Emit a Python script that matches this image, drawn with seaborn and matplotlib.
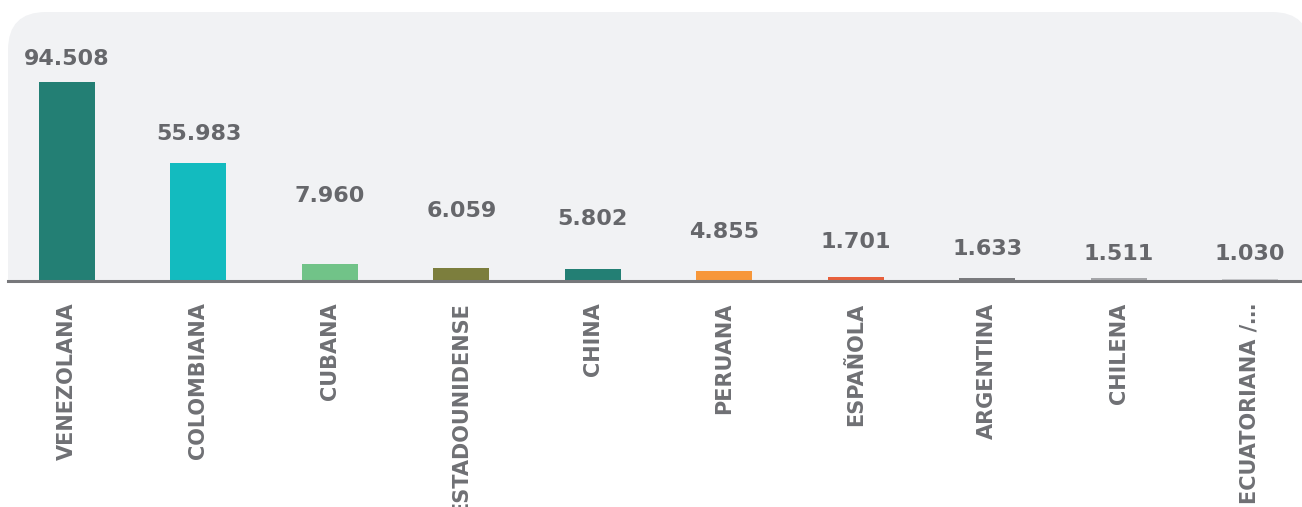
import matplotlib
matplotlib.use("Agg")
import matplotlib.pyplot as plt
import seaborn as sns
import pandas as pd
from matplotlib.patches import FancyBboxPatch, Rectangle

# ---- data ----
categories = ["VENEZOLANA", "COLOMBIANA", "CUBANA", "ESTADOUNIDENSE", "CHINA",
              "PERUANA", "ESPAÑOLA", "ARGENTINA", "CHILENA", "ECUATORIANA /…"]
values = [94508, 55983, 7960, 6059, 5802, 4855, 1701, 1633, 1511, 1030]
value_labels = ["94.508", "55.983", "7.960", "6.059", "5.802",
                "4.855", "1.701", "1.633", "1.511", "1.030"]
colors = ["#237f74", "#13bbbf", "#71c388", "#7c7e3d", "#237f74",
          "#f7973a", "#e8603c", "#7a7b7e", "#a5a6a9", "#c8c9cc"]

# layout: label centre height above the baseline, in pixels
label_offsets_px = [222, 147, 85, 70, 62, 49, 39, 32, 27, 27]

df = pd.DataFrame({"cat": categories, "val": values})

sns.set_theme(style="white")
plt.rcParams["font.family"] = ["DejaVu Sans"]

W, H, DPI = 1302, 507, 100
fig = plt.figure(figsize=(W / DPI, H / DPI), dpi=DPI)
fig.patch.set_facecolor("white")

# rounded light panel
base_px = 281
panel = FancyBboxPatch((8 / DPI, (H - base_px - 60) / DPI), (1310 - 8) / DPI,
                       (base_px + 60 - 12) / DPI,
                       boxstyle="round,pad=0,rounding_size=0.38",
                       transform=fig.dpi_scale_trans, facecolor="#f1f2f4",
                       edgecolor="none", zorder=-2)
fig.patches.append(panel)
cover = Rectangle((0, 0), W / DPI, (H - base_px) / DPI, transform=fig.dpi_scale_trans,
                  facecolor="white", edgecolor="none", zorder=-1)
fig.patches.append(cover)

ax = fig.add_axes([8 / W, (H - base_px) / H, (W - 8) / W, (base_px - 12) / H])
ax.set_facecolor("none")

sns.barplot(data=df, x="cat", y="val", hue="cat", palette=colors, dodge=False,
            width=0.426, legend=False, ax=ax, saturation=1, linewidth=0,
            edgecolor="none")

ax.set_xlim(-0.449, 9.396)
ax.set_ylim(0, 127730)

for i, (lab, off) in enumerate(zip(value_labels, label_offsets_px)):
    ax.annotate(lab, xy=(i, 0), xytext=(0, off), textcoords="offset pixels",
                ha="center", va="center", fontsize=16, fontweight="bold",
                color="#66676b")

ax.set_xlabel("")
ax.set_ylabel("")
ax.set_yticks([])
ax.tick_params(axis="x", length=0, pad=15.5)
for t in ax.get_xticklabels():
    t.set_rotation(90)
    t.set_fontsize(15)
    t.set_fontweight("bold")
    t.set_color("#6f7074")
    t.set_va("top")
    t.set_ha("center")

for s in ["top", "right", "left"]:
    ax.spines[s].set_visible(False)
ax.spines["bottom"].set_color("#77787b")
ax.spines["bottom"].set_linewidth(2.2)
ax.spines["bottom"].set_zorder(3)

fig.savefig("out.png", dpi=DPI)
